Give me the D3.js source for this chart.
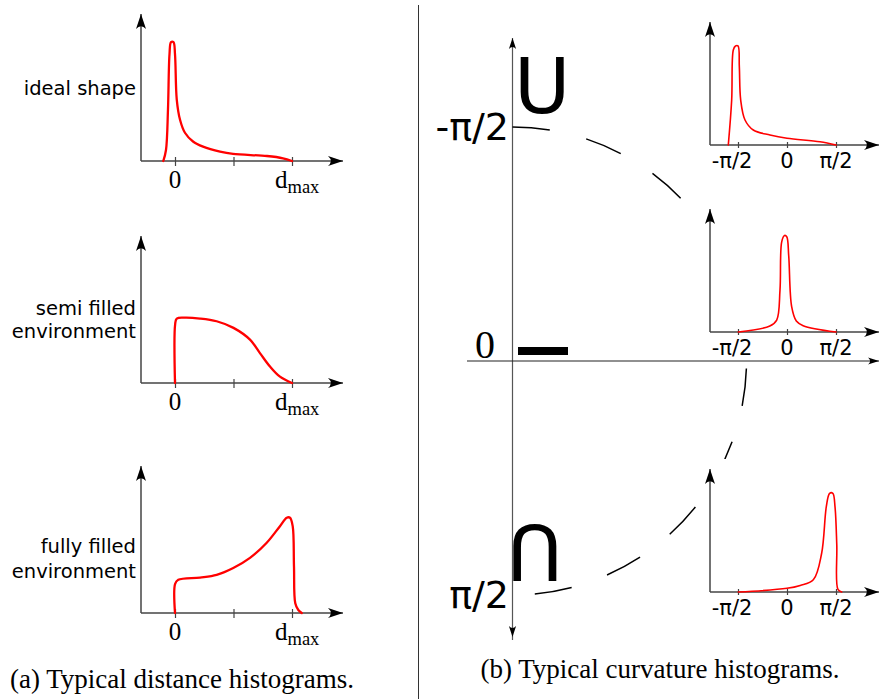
<!DOCTYPE html>
<html>
<head>
<meta charset="utf-8">
<title>Typical histograms</title>
<script src="https://cdn.jsdelivr.net/npm/d3@7"></script>
<style>
  body { margin: 0; background: #fff; }
  svg { display: block; }
</style>
</head>
<body>
<script>
// ---- data ----
// distance histograms: x in units of d_max, y relative height
const distTicks = [0, 0.5, 1];
const distLabels = [["ideal shape"], ["semi filled", "environment"], ["fully filled", "environment"]];
const idealShape = [[-0.10, 0], [-0.077, 0.073], [-0.06, 0.34], [-0.047, 0.707], [-0.034, 0.787], [-0.013, 0.787],
  [0, 0.707], [0.015, 0.407], [0.043, 0.273], [0.085, 0.187], [0.154, 0.129], [0.24, 0.095], [0.385, 0.062],
  [0.496, 0.047], [0.786, 0.033], [0.923, 0.018], [1, 0]];
const semiFilled = [[0, 0], [0.001, 0.387], [0.015, 0.427], [0.085, 0.433], [0.214, 0.427], [0.356, 0.409],
  [0.5, 0.365], [0.641, 0.287], [0.726, 0.198], [0.812, 0.109], [0.897, 0.042], [1, 0]];
const fullyFilled = [[0, 0], [0.001, 0.193], [0.028, 0.22], [0.214, 0.235], [0.356, 0.253], [0.498, 0.298],
  [0.641, 0.365], [0.784, 0.465], [0.897, 0.575], [0.955, 0.631], [0.983, 0.631], [1.006, 0.575],
  [1.017, 0.309], [1.028, 0.065], [1.054, 0.02], [1.083, 0]];

// curvature histograms: x in units of pi/2
const curvTicks = [-1, 0, 1];
const curvTickLabels = ["-π/2", "0", "π/2"];
const curvU = [[-1.198, 0], [-1.129, 0.354], [-1.096, 0.748], [-1.051, 0.78], [-1.0, 0.78], [-0.973, 0.617],
  [-0.945, 0.354], [-0.857, 0.197], [-0.688, 0.118], [-0.347, 0.079], [0, 0.053], [0.673, 0.026], [1, 0]];
const curvFlat = [[-0.994, 0], [-0.35, 0.047], [-0.21, 0.094], [-0.143, 0.33], [-0.108, 0.71], [-0.05, 0.76],
  [-0.005, 0.75], [0.035, 0.6], [0.095, 0.2], [0.19, 0.087], [0.33, 0.05], [1, 0]];
const curvCap = [[-0.994, 0], [0, 0.029], [0.27, 0.052], [0.537, 0.096], [0.707, 0.305], [0.803, 0.674],
  [0.87, 0.777], [0.935, 0.777], [0.98, 0.67], [1.016, 0.37], [1.04, 0.02], [1.116, 0]];

const bigTicks = [-1, 0, 1];
const bigTickLabels = ["-π/2", "0", "π/2"];

const captionA = "(a) Typical distance histograms.";
const captionB = "(b) Typical curvature histograms.";

// ---- drawing ----
const w = 884, h = 699;
const svg = d3.select("body").append("svg").attr("width", w).attr("height", h);

const defs = svg.append("defs");
function arrowMarker(id, len, half) {
  defs.append("marker")
    .attr("id", id)
    .attr("markerUnits", "userSpaceOnUse")
    .attr("viewBox", `${-len - 1} ${-half - 1} ${len + 2} ${2 * half + 2}`)
    .attr("markerWidth", len + 2).attr("markerHeight", 2 * half + 2)
    .attr("refX", 0).attr("refY", 0)
    .attr("orient", "auto")
    .append("path")
    .attr("d", `M0,0 L${-len},${-half} Q${-len * 0.62},0 ${-len},${half} Z`)
    .attr("fill", "#000");
}
arrowMarker("arr", 15, 5);
arrowMarker("arrSmall", 11, 3.6);

const axisColor = "#444";

function histogram(cfg) {
  const g = svg.append("g");
  const x = d3.scaleLinear().domain(cfg.domain).range(cfg.range);
  const y = d3.scaleLinear().domain([0, 1]).range([cfg.base, cfg.base - cfg.height]);

  if (cfg.bg) {
    g.append("rect").attr("x", cfg.axisX - 10).attr("y", cfg.base - cfg.height - 6)
      .attr("width", w - cfg.axisX + 10).attr("height", cfg.height + 40).attr("fill", "#fff");
  }

  // tick marks through the x axis
  const ax = g.append("g").attr("transform", `translate(0,${cfg.base})`)
    .call(d3.axisBottom(x).tickValues(cfg.ticks).tickFormat("").tickSizeOuter(0).tickSize(cfg.tickDown));
  ax.select(".domain").remove();
  ax.selectAll(".tick line").attr("y1", -cfg.tickUp).attr("stroke", axisColor).attr("stroke-width", 1.2);

  // axes with arrows
  g.append("line").attr("x1", cfg.axisX).attr("x2", cfg.axisEnd - 4)
    .attr("y1", cfg.base).attr("y2", cfg.base)
    .attr("stroke", axisColor).attr("stroke-width", 1.5).attr("marker-end", "url(#arr)");
  g.append("line").attr("x1", cfg.axisX).attr("x2", cfg.axisX)
    .attr("y1", cfg.base).attr("y2", cfg.base - cfg.height + 4)
    .attr("stroke", axisColor).attr("stroke-width", 1.5).attr("marker-end", "url(#arr)");

  // curve
  const line = d3.line().x(d => x(d[0])).y(d => y(d[1])).curve(d3.curveCatmullRom.alpha(0.5));
  g.append("path").datum(cfg.data).attr("d", line)
    .attr("fill", "none").attr("stroke", "#ff0000").attr("stroke-width", cfg.lineW)
    .attr("stroke-linejoin", "round").attr("stroke-linecap", "round");
  return { g, x, y };
}

// ---- (a) distance histograms ----
const distBases = [161, 383, 613];
const distData = [idealShape, semiFilled, fullyFilled];
const nameBaselines = [[95], [315, 338], [553, 578]];

distData.forEach((data, i) => {
  const c = histogram({
    domain: [0, 1], range: [175, 292], base: distBases[i], height: 151,
    axisX: 141, axisEnd: 347, ticks: distTicks, tickUp: 4, tickDown: 5,
    data: data, lineW: 2.3
  });
  // tick labels
  c.g.append("text").attr("x", c.x(0)).attr("y", distBases[i] + 27)
    .attr("text-anchor", "middle").attr("font-family", "Liberation Serif").attr("font-size", 25)
    .text("0");
  const dm = c.g.append("text").attr("x", c.x(1) - 17).attr("y", distBases[i] + 27)
    .attr("font-family", "Liberation Serif").attr("font-size", 25);
  dm.append("tspan").text("d");
  dm.append("tspan").attr("dy", 5).attr("font-size", 18.5).text("max");
  // environment name
  distLabels[i].forEach((s, k) => {
    c.g.append("text").attr("x", 136).attr("y", nameBaselines[i][k])
      .attr("text-anchor", "end").attr("font-family", "DejaVu Sans").attr("font-size", 19.5)
      .text(s);
  });
});

// divider
svg.append("line").attr("x1", 418.5).attr("x2", 418.5).attr("y1", 5).attr("y2", h)
  .attr("stroke", "#333").attr("stroke-width", 1);

// ---- (b) big curvature axes ----
const cx = 512.5, cy = 361, r = 234;
const yBig = d3.scaleLinear().domain([-1, 1]).range([cy - r, cy + r]);

svg.append("line").attr("x1", cx).attr("x2", cx).attr("y1", 640).attr("y2", 38)
  .attr("stroke", "#555").attr("stroke-width", 1.2).attr("marker-end", "url(#arrSmall)");
svg.append("line").attr("x1", cx).attr("x2", cx).attr("y1", 400).attr("y2", 637)
  .attr("stroke", "none").attr("marker-end", "url(#arrSmall)");

// dashed arc from -pi/2 (top) to pi/2 (bottom)
const arcPath = d3.path();
arcPath.arc(cx, cy, r, -Math.PI / 2, Math.PI / 2, false);
svg.append("path").attr("d", arcPath.toString())
  .attr("fill", "none").attr("stroke", "#000").attr("stroke-width", 1.5)
  .attr("stroke-dasharray", "37.5 37.5");

// big labels
svg.append("text").attr("x", 509).attr("y", yBig(-1) + 13)
  .attr("text-anchor", "end").attr("font-family", "DejaVu Sans").attr("font-size", 38)
  .text(bigTickLabels[0]);
svg.append("text").attr("x", 485).attr("y", yBig(0) - 3)
  .attr("text-anchor", "middle").attr("font-family", "Liberation Serif").attr("font-size", 40)
  .text(bigTickLabels[1]);
svg.append("text").attr("x", 509).attr("y", yBig(1) + 13)
  .attr("text-anchor", "end").attr("font-family", "DejaVu Sans").attr("font-size", 38)
  .text(bigTickLabels[2]);

// shape symbols
svg.append("text").attr("x", 514).attr("y", 113)
  .attr("font-family", "DejaVu Sans").attr("font-size", 77).text("U");
svg.append("rect").attr("x", 518).attr("y", 347).attr("width", 50).attr("height", 8).attr("fill", "#000");
svg.append("text").attr("transform", "translate(563,525) rotate(180)")
  .attr("font-family", "DejaVu Sans").attr("font-size", 77).text("U");

// ---- (b) small curvature histograms ----
const curvBases = [145, 332, 592];
const curvData = [curvU, curvFlat, curvCap];
curvData.forEach((data, i) => {
  const c = histogram({
    domain: [-1, 1], range: [738, 836], base: curvBases[i], height: 127,
    axisX: 710, axisEnd: 883, ticks: curvTicks, tickUp: 3, tickDown: 3,
    data: data, lineW: 1.6, bg: true
  });
  curvTickLabels.forEach((s, k) => {
    c.g.append("text").attr("x", c.x(curvTicks[k]) + (k === 0 ? -6 : 0)).attr("y", curvBases[i] + 23)
      .attr("text-anchor", "middle").attr("font-family", "DejaVu Sans").attr("font-size", 21)
      .text(s);
  });
});

// big horizontal axis on top of the inset backgrounds
svg.append("line").attr("x1", 467).attr("x2", 879).attr("y1", cy).attr("y2", cy)
  .attr("stroke", "#222").attr("stroke-width", 1.2).attr("marker-end", "url(#arrSmall)");

// captions
svg.append("text").attr("x", 182).attr("y", 688).attr("text-anchor", "middle")
  .attr("font-family", "Liberation Serif").attr("font-size", 27).text(captionA);
svg.append("text").attr("x", 660).attr("y", 678).attr("text-anchor", "middle")
  .attr("font-family", "Liberation Serif").attr("font-size", 27).text(captionB);
</script>
</body>
</html>
